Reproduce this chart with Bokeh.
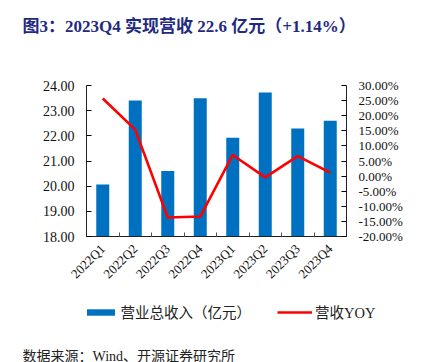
import math
from bokeh.plotting import figure
from bokeh.layouts import column
from bokeh.models import (Range1d, LinearAxis, FixedTicker, PrintfTickFormatter,
                          Legend, LegendItem, Label, ColumnDataSource)
from bokeh.embed import file_html
from bokeh.resources import INLINE

quarters = ["2022Q1", "2022Q2", "2022Q3", "2022Q4", "2023Q1", "2023Q2", "2023Q3", "2023Q4"]
revenue = [20.07, 23.40, 20.60, 23.49, 21.92, 23.72, 22.29, 22.60]
yoy = [25.7, 15.4, -13.7, -13.4, 7.0, -0.4, 6.6, 1.14]
left_ticks = [18, 19, 20, 21, 22, 23, 24]
right_ticks = [-20, -15, -10, -5, 0, 5, 10, 15, 20, 25, 30]

title_text = "图3：2023Q4 实现营收 22.6 亿元（+1.14%）"
source_text = "数据来源：Wind、开源证券研究所"
bar_label = "营业总收入（亿元）"
line_label = "营收YOY"

BAR_COLOR = "#0070C0"
LINE_COLOR = "#FF0000"
MIX = "'Liberation Serif', 'Times New Roman', 'Noto Sans CJK SC'"
SERIF = "'Liberation Serif', 'Times New Roman'"

W = 439
H1, H2, H3, H4, H5 = 40, 258, 42, 1, 21   # title, chart, legend, rule, source strips
ML, FW, MT, FH = 86, 260, 45, 151
PL, PR = 22, 433  # left/right page edges of the footer rule


def blank(h, left=0, right=W):
    f = figure(width=W, height=h, output_backend="svg", toolbar_location=None,
               x_range=Range1d(left, right), y_range=Range1d(0, h),
               x_axis_location=None, y_axis_location=None,
               min_border=0, min_border_left=left, min_border_right=W - right,
               min_border_top=0, min_border_bottom=0, frame_align=False)
    f.outline_line_color = None
    f.grid.visible = False
    return f


# ---- title strip
pt = blank(H1)
pt.add_layout(Label(x=22, y=H1 - 25.5, text=title_text, text_font=MIX, text_font_size="17px",
                    text_font_style="bold", text_color="#1F2A80",
                    text_baseline="middle", text_align="left"))

# ---- main chart
xs = [i + 0.5 for i in range(len(quarters))]
src = ColumnDataSource(dict(x=xs, q=quarters, rev=revenue, yoy=yoy))

p = figure(width=W, height=H2, output_backend="svg", toolbar_location=None,
           x_range=Range1d(0, len(quarters)), y_range=Range1d(left_ticks[0], left_ticks[-1]),
           min_border_left=ML, min_border_right=W - ML - FW,
           min_border_top=MT, min_border_bottom=H2 - MT - FH, frame_align=False)
p.extra_y_ranges = {"yoy": Range1d(right_ticks[0], right_ticks[-1])}
p.outline_line_color = None
p.xgrid.visible = False
p.ygrid.visible = False

bars = p.vbar(x="x", top="rev", bottom=left_ticks[0], width=0.4, source=src,
              fill_color=BAR_COLOR, line_color=None)
line = p.line(x="x", y="yoy", source=src, y_range_name="yoy",
              line_color=LINE_COLOR, line_width=2.6)

xa = p.xaxis[0]
xa.ticker = FixedTicker(ticks=xs, minor_ticks=list(range(len(quarters) + 1)))
xa.major_label_overrides = {x: q for x, q in zip(xs, quarters)}
xa.major_tick_line_color = None
xa.minor_tick_in = 4
xa.minor_tick_out = 0
xa.minor_tick_line_color = "#555555"
xa.axis_line_color = "#222222"
xa.axis_line_width = 1.2
xa.major_label_orientation = math.pi / 4
xa.major_label_text_font = SERIF
xa.major_label_text_font_size = "13px"
xa.major_label_text_color = "#111111"
xa.major_label_standoff = 4

ya = p.yaxis[0]
ya.ticker = FixedTicker(ticks=left_ticks)
ya.formatter = PrintfTickFormatter(format="%.2f")
ya.major_tick_in = 5
ya.major_tick_out = 0
ya.minor_tick_line_color = None
ya.axis_line_color = "#222222"
ya.major_label_text_font = SERIF
ya.major_label_text_font_size = "14px"
ya.major_label_text_color = "#111111"
ya.major_label_standoff = 12

ra = LinearAxis(y_range_name="yoy", ticker=FixedTicker(ticks=right_ticks),
                formatter=PrintfTickFormatter(format="%.2f%%"))
ra.major_tick_in = 5
ra.major_tick_out = 0
ra.minor_tick_line_color = None
ra.axis_line_color = "#222222"
ra.major_label_text_font = SERIF
ra.major_label_text_font_size = "13px"
ra.major_label_text_color = "#111111"
ra.major_label_standoff = 12
p.add_layout(ra, "right")

# ---- legend strip (legend keys use hidden copies of the series)
pl = blank(H3, PL, PR)
lb = pl.vbar(x="x", top="rev", width=0.4, source=src, fill_color=BAR_COLOR,
             line_color=None, visible=False)
ll = pl.line(x="x", y="yoy", source=src, line_color=LINE_COLOR, line_width=2.6,
             visible=False)
legend = Legend(items=[LegendItem(label=bar_label, renderers=[lb]),
                       LegendItem(label=line_label, renderers=[ll])],
                orientation="horizontal", location=(82.5 - PL, H3 - 24),
                border_line_color=None, background_fill_alpha=0,
                glyph_width=35, glyph_height=8, label_standoff=3, spacing=26,
                padding=0, margin=0, label_height=20,
                inactive_fill_alpha=0,
                label_text_font=MIX, label_text_font_size="14.5px",
                label_text_color="#222222")
pl.add_layout(legend, "center")

# ---- footer rule: a 1px strip whose frame is filled dark
prule = blank(H4, PL, PR)
prule.background_fill_color = "#333333"
prule.border_fill_color = "white"

# ---- source strip
ps = blank(H5, PL, PR)
ps.add_layout(Label(x=PL, y=H5 - 14.5, text=source_text, text_font=MIX, text_font_size="14px",
                    text_color="#222222", text_baseline="alphabetic", text_align="left"))

layout = column(pt, p, pl, prule, ps, spacing=0)
open("out.html", "w").write(file_html(layout, INLINE))
